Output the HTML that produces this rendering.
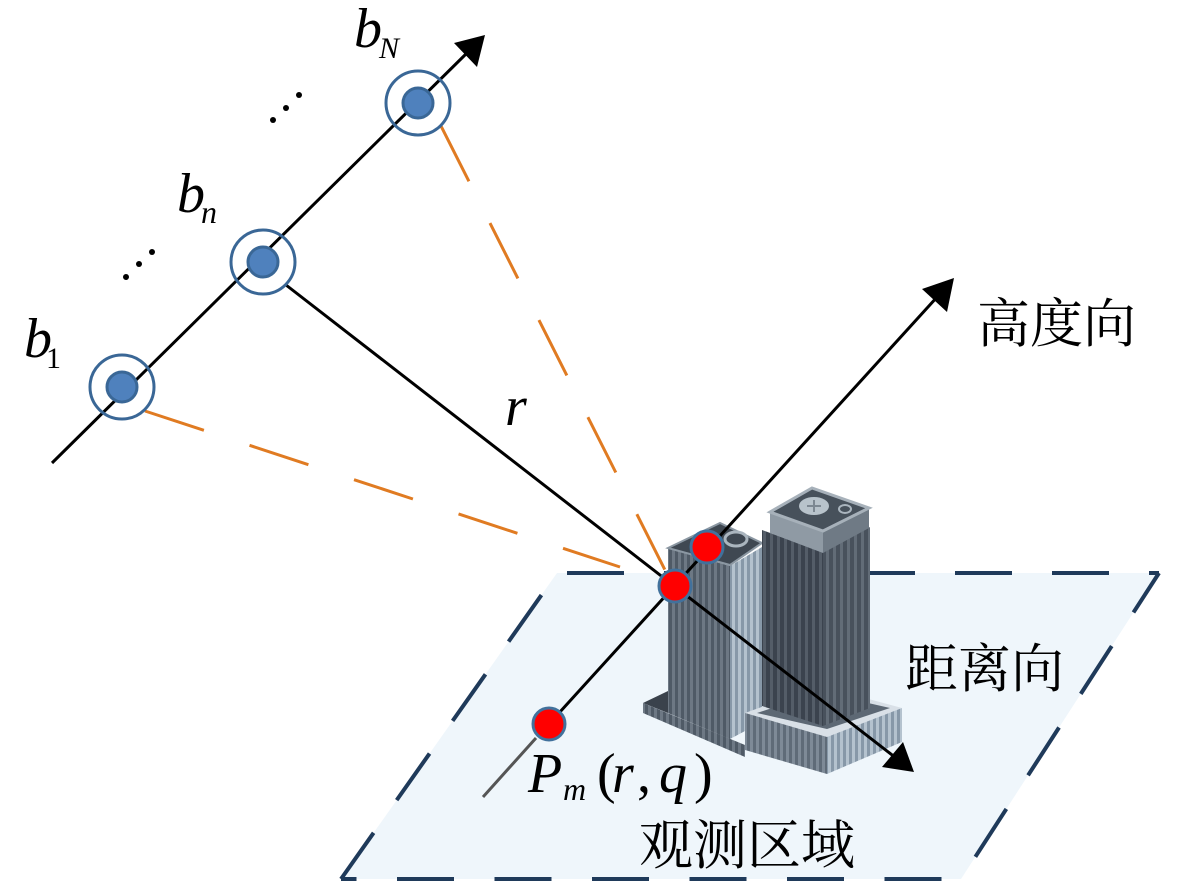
<!DOCTYPE html>
<html>
<head>
<meta charset="utf-8">
<style>
  html,body{margin:0;padding:0;background:#fff;}
  svg{display:block;}
  .m{font-family:"Liberation Serif",serif;font-style:italic;fill:#000;}
  .u{font-family:"Liberation Serif",serif;fill:#000;}
  .zh{font-family:"Noto Serif CJK SC","Noto Serif SC","Noto Serif CJK JP","AR PL UMing CN","Liberation Serif",serif;fill:#000;}
</style>
</head>
<body>
<svg width="1181" height="883" viewBox="0 0 1181 883" xmlns="http://www.w3.org/2000/svg">
  <defs>
    <pattern id="pd" width="7" height="10" patternUnits="userSpaceOnUse">
      <rect width="7" height="10" fill="#3b434e"/>
      <rect x="0" width="3" height="10" fill="#545d68"/>
    </pattern>
    <pattern id="pd2" width="7" height="10" patternUnits="userSpaceOnUse">
      <rect width="7" height="10" fill="#48515c"/>
      <rect x="0" width="3" height="10" fill="#626c77"/>
    </pattern>
    <pattern id="pm" width="6" height="10" patternUnits="userSpaceOnUse">
      <rect width="6" height="10" fill="#4f5a66"/>
      <rect x="0" width="3" height="10" fill="#6d7884"/>
    </pattern>
    <pattern id="pm2" width="6" height="10" patternUnits="userSpaceOnUse">
      <rect width="6" height="10" fill="#5f6b78"/>
      <rect x="0" width="3" height="10" fill="#7e8a97"/>
    </pattern>
    <pattern id="pl" width="6" height="10" patternUnits="userSpaceOnUse">
      <rect width="6" height="10" fill="#8798a8"/>
      <rect x="0" width="3" height="10" fill="#b4c2ce"/>
    </pattern>
  </defs>

  <!-- observation area parallelogram -->
  <polygon points="557,573 1159,573 961,879 341,879" fill="#eff6fb"/>
  <g stroke="#1f3a5a" stroke-width="4" fill="none">
    <line x1="557" y1="573" x2="1159" y2="573" stroke-dasharray="57 40" stroke-dashoffset="87"/>
    <line x1="1159" y1="573" x2="961" y2="879" stroke-dasharray="57 40" stroke-dashoffset="10"/>
    <line x1="341" y1="879" x2="961" y2="879" stroke-dasharray="57 40.5" stroke-dashoffset="41.5"/>
    <line x1="557" y1="573" x2="341" y2="879" stroke-dasharray="57 40" stroke-dashoffset="70"/>
  </g>

  <!-- building -->
  <g>
    <!-- left base slab -->
    <polygon points="643,703 668,691 668,713" fill="#3a424c"/>
    <polygon points="643,703 745,745 745,757 643,713" fill="url(#pm)"/>
    <!-- left tower -->
    <polygon points="668,548 730,566 730,739 668,713" fill="url(#pm)"/>
    <polygon points="730,566 762,547 762,722 730,739" fill="url(#pl)"/>
    <polygon points="668,548 720,523 762,543 730,565" fill="#3f4852" stroke="#8b97a2" stroke-width="2"/>
    <ellipse cx="736" cy="539" rx="11" ry="7" fill="none" stroke="#aab5be" stroke-width="3"/>
    <!-- right platform -->
    <polygon points="745,713 820,686 902,708 827,737" fill="#d9e0e7"/>
    <polygon points="757,713 820,692 890,708 827,729" fill="#5d6874"/>
    <polygon points="745,713 827,737 827,774 745,750" fill="url(#pm2)"/>
    <polygon points="827,737 902,708 902,742 827,774" fill="url(#pl)"/>
    <!-- right tower body -->
    <polygon points="762,530 823,552 823,726 762,706" fill="url(#pd)"/>
    <polygon points="823,552 870,527 870,708 823,726" fill="url(#pd2)"/>
    <!-- right tower cap -->
    <polygon points="770,512 823,531 823,553 770,533" fill="#8f9aa4"/>
    <polygon points="823,531 869,508 869,528 823,553" fill="#6f7a85"/>
    <polygon points="770,512 812,488 869,508 823,531" fill="#47515b" stroke="#a7b1ba" stroke-width="3"/>
    <ellipse cx="814" cy="506" rx="15" ry="9" fill="#b8c3cb"/>
    <path d="M807,506 L821,506 M814,500 L814,512" stroke="#7d8892" stroke-width="2"/>
    <ellipse cx="845" cy="509" rx="6" ry="4" fill="none" stroke="#aab5be" stroke-width="2"/>
  </g>

  <!-- orange dashed lines -->
  <g stroke="#e07b22" stroke-width="3" fill="none">
    <line x1="145" y1="411" x2="620" y2="567" stroke-dasharray="62 48"/>
    <line x1="441" y1="126" x2="665" y2="570" stroke-dasharray="62 46.7"/>
  </g>

  <!-- baseline -->
  <line x1="52" y1="463" x2="470" y2="50" stroke="#000" stroke-width="3"/>
  <polygon points="485,35 454,43 477,67" fill="#000"/>

  <!-- range line from b_n -->
  <line x1="286" y1="285" x2="896" y2="758" stroke="#000" stroke-width="3"/>
  <polygon points="914,772 882,767 903,742" fill="#000"/>

  <!-- height line -->
  <line x1="483" y1="797" x2="536" y2="738" stroke="#555" stroke-width="3"/>
  <line x1="549" y1="724" x2="938" y2="296" stroke="#000" stroke-width="3"/>
  <polygon points="954,278 922,289 947,312" fill="#000"/>

  <!-- baseline antennas -->
  <g stroke="#3a6796" stroke-width="3">
    <circle cx="122" cy="387" r="32" fill="none"/>
    <circle cx="122" cy="387" r="15" fill="#4f81bd"/>
    <circle cx="263" cy="262" r="32" fill="none"/>
    <circle cx="263" cy="262" r="15" fill="#4f81bd"/>
    <circle cx="418" cy="103" r="32" fill="none"/>
    <circle cx="418" cy="103" r="15" fill="#4f81bd"/>
  </g>

  <!-- diagonal dots -->
  <g fill="#000">
    <circle cx="273" cy="120" r="3"/>
    <circle cx="286" cy="108" r="3"/>
    <circle cx="299" cy="95" r="3"/>
    <circle cx="126" cy="277" r="3"/>
    <circle cx="139" cy="264" r="3"/>
    <circle cx="152" cy="252" r="3"/>
  </g>

  <!-- red points -->
  <g fill="#ff0000" stroke="#41719c" stroke-width="3">
    <circle cx="707" cy="547" r="16"/>
    <circle cx="675" cy="586" r="16"/>
    <circle cx="549" cy="724" r="16"/>
  </g>

  <!-- labels -->
  <text class="m" x="354" y="47" font-size="56">b</text>
  <text class="m" x="379" y="58" font-size="30">N</text>
  <text class="m" x="177" y="212" font-size="56">b</text>
  <text class="m" x="201" y="223" font-size="32">n</text>
  <text class="m" x="24" y="357" font-size="56">b</text>
  <text class="u" x="46" y="368" font-size="30">1</text>
  <text class="m" x="505" y="425" font-size="56">r</text>

  <text class="m" x="528" y="792" font-size="56">P</text>
  <text class="m" x="563" y="800" font-size="32">m</text>
  <text class="u" x="597" y="792" font-size="56">(</text>
  <text class="m" x="612" y="792" font-size="56">r</text>
  <text class="u" x="637" y="792" font-size="56">,</text>
  <text class="m" x="659" y="792" font-size="56">q</text>
  <text class="u" x="694" y="792" font-size="56">)</text>

  <text class="zh" x="977" y="342" font-size="53">高度向</text>
  <text class="zh" x="905" y="687" font-size="53">距离向</text>
  <text class="zh" x="639" y="864" font-size="54">观测区域</text>
</svg>
</body>
</html>
